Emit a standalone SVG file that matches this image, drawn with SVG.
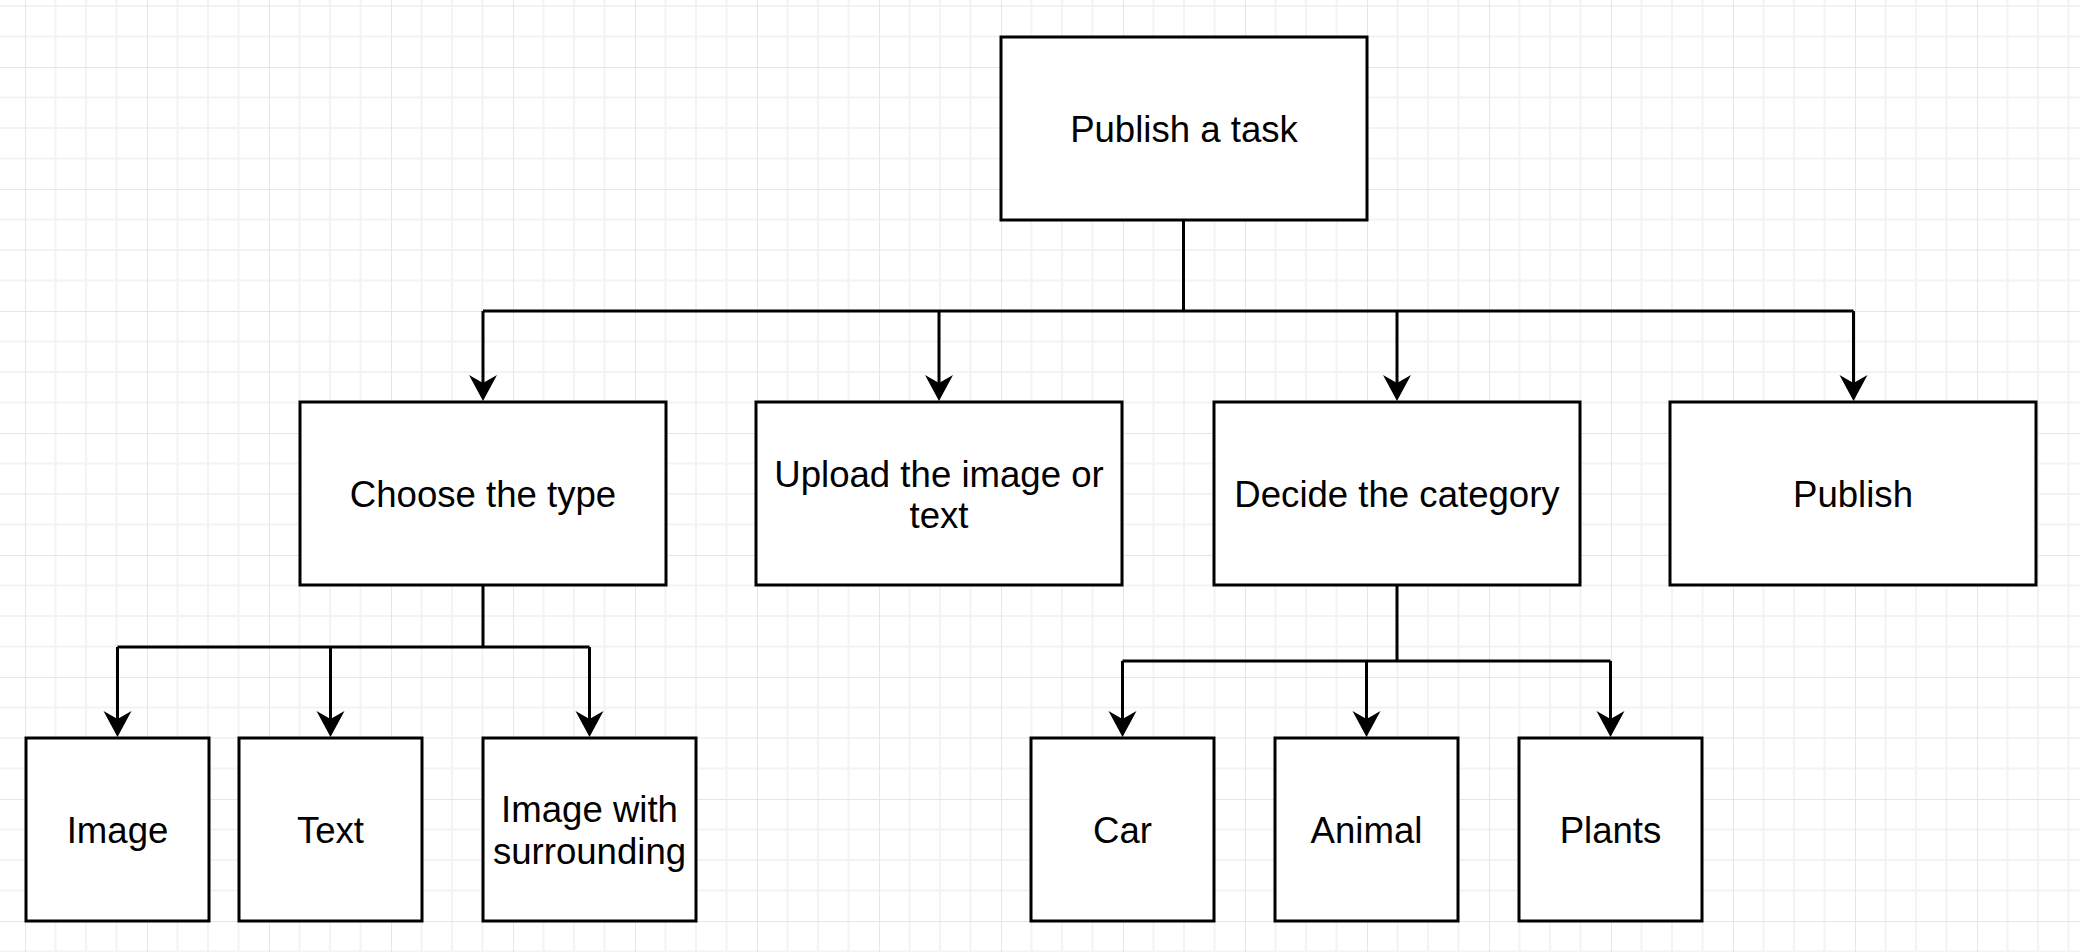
<svg xmlns="http://www.w3.org/2000/svg" width="2080" height="952" viewBox="0 0 2080 952">
  <style>
    .box { fill: #ffffff; stroke: #000000; stroke-width: 3; }
    .lbl { font-family: "Liberation Sans", Arial, Helvetica, sans-serif; font-size: 36.6px; fill: #000000; text-anchor: middle; }
    .edge { fill: none; stroke: #000000; stroke-width: 3; marker-end: url(#arrow); }
    .trunk { fill: none; stroke: #000000; stroke-width: 3; }
  </style>
  <defs>
    <pattern id="grid" x="25" y="67" width="122" height="122" patternUnits="userSpaceOnUse">
      <path d="M30.5 0V122M61 0V122M91.5 0V122M0 30.5H122M0 61H122M0 91.5H122" stroke="#f3f3f3" stroke-width="2" fill="none"/>
      <path d="M0 0V122M0 0H122" stroke="#e6e6e6" stroke-width="2" fill="none"/>
    </pattern>
    <marker id="arrow" markerUnits="userSpaceOnUse" viewBox="0 -14 26 28" markerWidth="26" markerHeight="28" refX="8" refY="0" orient="auto" overflow="visible">
      <path d="M26 0L0 -14L8 0L0 14Z" fill="#000000"/>
    </marker>
  </defs>
  <rect x="0" y="0" width="2080" height="952" fill="#ffffff"/>
  <rect x="0" y="0" width="2080" height="952" fill="url(#grid)"/>

  <g id="connectors">
    <path class="trunk" d="M1183.5 220V311M483 311H1853.5"/>
    <path class="edge" d="M483 311V383"/>
    <path class="edge" d="M939 311V383"/>
    <path class="edge" d="M1397 311V383"/>
    <path class="edge" d="M1853.5 311V383"/>
    <path class="trunk" d="M483 585V647M117.5 647H589.5"/>
    <path class="edge" d="M117.5 647V719"/>
    <path class="edge" d="M330.5 647V719"/>
    <path class="edge" d="M589.5 647V719"/>
    <path class="trunk" d="M1397 585V661M1122.5 661H1610.5"/>
    <path class="edge" d="M1122.5 661V719"/>
    <path class="edge" d="M1366.5 661V719"/>
    <path class="edge" d="M1610.5 661V719"/>
  </g>

  <g id="publish-task">
    <rect class="box" x="1001" y="37" width="366" height="183"/>
    <text class="lbl" x="1184" y="141.8">Publish a task</text>
  </g>
  <g id="choose-type">
    <rect class="box" x="300" y="402" width="366" height="183"/>
    <text class="lbl" x="483" y="506.8">Choose the type</text>
  </g>
  <g id="upload">
    <rect class="box" x="756" y="402" width="366" height="183"/>
    <text class="lbl" x="939" y="486.5">Upload the image or</text>
    <text class="lbl" x="939" y="528">text</text>
  </g>
  <g id="decide-category">
    <rect class="box" x="1214" y="402" width="366" height="183"/>
    <text class="lbl" x="1397" y="506.8">Decide the category</text>
  </g>
  <g id="publish">
    <rect class="box" x="1670" y="402" width="366" height="183"/>
    <text class="lbl" x="1853" y="506.8">Publish</text>
  </g>
  <g id="image">
    <rect class="box" x="26" y="738" width="183" height="183"/>
    <text class="lbl" x="117.5" y="842.8">Image</text>
  </g>
  <g id="text">
    <rect class="box" x="239" y="738" width="183" height="183"/>
    <text class="lbl" x="330.5" y="842.8">Text</text>
  </g>
  <g id="image-surrounding">
    <rect class="box" x="483" y="738" width="213" height="183"/>
    <text class="lbl" x="589.5" y="822">Image with</text>
    <text class="lbl" x="589.5" y="863.5">surrounding</text>
  </g>
  <g id="car">
    <rect class="box" x="1031" y="738" width="183" height="183"/>
    <text class="lbl" x="1122.5" y="842.8">Car</text>
  </g>
  <g id="animal">
    <rect class="box" x="1275" y="738" width="183" height="183"/>
    <text class="lbl" x="1366.5" y="842.8">Animal</text>
  </g>
  <g id="plants">
    <rect class="box" x="1519" y="738" width="183" height="183"/>
    <text class="lbl" x="1610.5" y="842.8">Plants</text>
  </g>
</svg>
